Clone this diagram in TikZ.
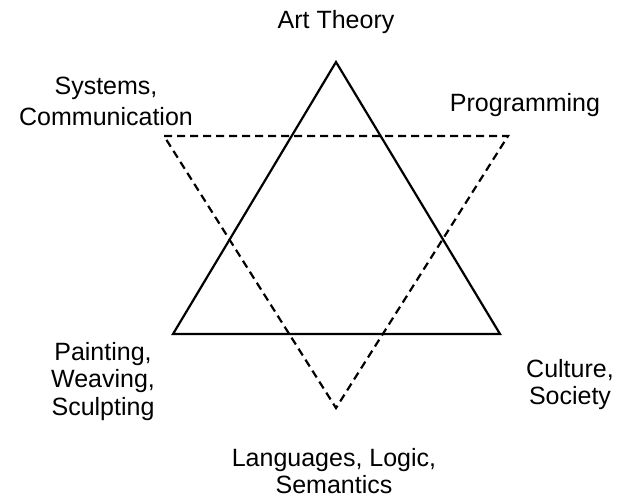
\documentclass[tikz,border=0pt]{standalone}
\usepackage{fontspec}
\setmainfont{Liberation Sans}
\usepackage{tikz}
\usetikzlibrary{positioning}
\tikzstyle{lbl}=[inner sep=0, align=center, font=\fontsize{25}{27.5}\selectfont]
\tikzstyle{tri}=[draw, line width=2.2pt, line join=miter]
\tikzstyle{dtri}=[draw, line width=2.2pt, dash pattern=on 8pt off 5pt]

\begin{document}
\begin{tikzpicture}[x=1pt, y=-1pt]
                \useasboundingbox (0,0) rectangle (620,501);
                % upward triangle
                \coordinate (top) at (336,62);
                \coordinate (left) at (173,334);
                \coordinate (right) at (500,334);
                % downward triangle
                \coordinate (dleft) at (164,136);
                \coordinate (dright) at (508,136);
                \coordinate (dbottom) at (336,408);
                \draw[tri] (top) -- (left) -- (right) -- cycle;
                \draw[dtri] (dleft) -- (dright) -- (dbottom) -- cycle;
                % labels
                \node[lbl, anchor=base] (art) at (336,28) {Art Theory};
                \node[lbl, anchor=north, font=\fontsize{25}{31}\selectfont] (sys) at (106,77) {Systems,\\Communication};
                \node[lbl, anchor=base] (prog) at (525,111) {Programming};
                \node[lbl, anchor=north] (paint) at (103,342) {Painting,\\Weaving,\\Sculpting};
                \node[lbl, anchor=north] (cult) at (570,359) {Culture,\\Society};
                \node[lbl, anchor=north] (lang) at (334,448) {Languages, Logic,\\Semantics};
            \end{tikzpicture}
\end{document}
